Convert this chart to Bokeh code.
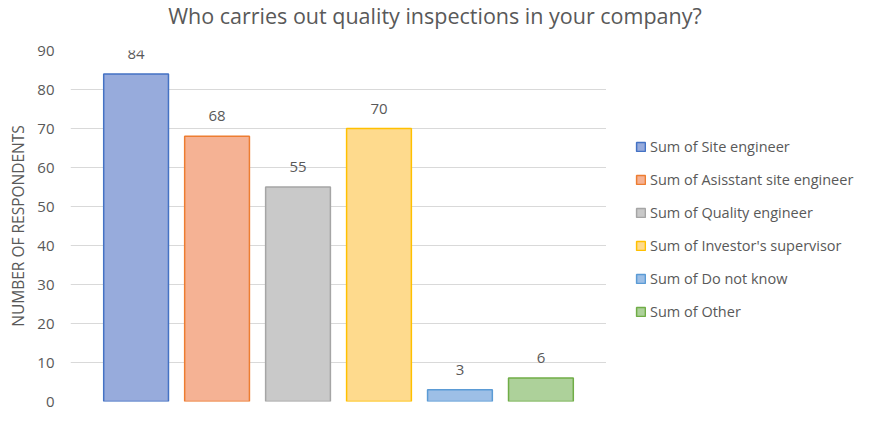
from bokeh.plotting import figure
from bokeh.models import ColumnDataSource, Range1d, Legend, LegendItem, LabelSet, Label, FixedTicker
from bokeh.layouts import row, column
from bokeh.core.properties import value
from bokeh.embed import file_html
from bokeh.resources import INLINE

title_text = "Who carries out quality inspections in your company?"
series = ["Sum of Site engineer", "Sum of Asisstant site engineer", "Sum of Quality engineer",
          "Sum of Investor's supervisor", "Sum of Do not know", "Sum of Other"]
values = [84, 68, 55, 70, 3, 6]
fills = ["#97ABDC", "#F5B294", "#C9C9C9", "#FEDA8D", "#9DBFE6", "#ADD19A"]
borders = ["#4472C4", "#ED7D31", "#A5A5A5", "#FFC000", "#5B9BD5", "#70AD47"]
y_ticks = [0, 10, 20, 30, 40, 50, 60, 70, 80, 90]

FONT = "Open Sans"
GRAY = "#595959"

# ---- title strip ----
tf = figure(width=858, height=32, output_backend="svg", toolbar_location=None,
            x_range=Range1d(0, 858), y_range=Range1d(0, 32),
            min_border_left=0, min_border_right=0, min_border_top=0, min_border_bottom=0)
tf.outline_line_color = None
tf.axis.visible = False
tf.grid.visible = False
tf.add_layout(Label(x=434.5, y=17, text=title_text, text_align="center", text_baseline="middle",
                    text_font=FONT, text_font_size="21.5px", text_color=GRAY))

# ---- main chart ----
src = ColumnDataSource(dict(x=list(range(len(values))), top=values, fill=fills, line=borders,
                            name=series, lbl=[str(v) for v in values]))

p = figure(frame_width=536, frame_height=351, output_backend="svg", toolbar_location=None,
           x_range=Range1d(-0.81, 5.81), y_range=Range1d(0, 90),
           min_border_left=70, min_border_bottom=8, min_border_top=18, min_border_right=0)
p.outline_line_color = None

r = p.vbar(x="x", top="top", width=0.8, bottom=0, source=src,
           fill_color="fill", line_color="line", line_width=1.5)

labels = LabelSet(x="x", y="top", text="lbl", source=src, text_align="center",
                  text_baseline="bottom", y_offset=15, text_font=value(FONT),
                  text_font_size=value("15px"), text_color=value(GRAY))
p.add_layout(labels)

p.xaxis.visible = False
p.xgrid.visible = False
p.ygrid.grid_line_color = "#D9D9D9"
p.ygrid.grid_line_width = 1
p.yaxis.ticker = FixedTicker(ticks=y_ticks)
p.yaxis.axis_line_color = None
p.yaxis.major_tick_line_color = None
p.yaxis.minor_tick_line_color = None
p.yaxis.major_label_text_font = FONT
p.yaxis.major_label_text_font_size = "15px"
p.yaxis.major_label_text_color = GRAY
p.yaxis.major_label_standoff = 10
p.yaxis.axis_label = "NUMBER OF RESPONDENTS"
p.yaxis.axis_label_text_font = FONT
p.yaxis.axis_label_text_font_size = "15.5px"
p.yaxis.axis_label_text_font_style = "normal"
p.yaxis.axis_label_text_color = GRAY
p.yaxis.axis_label_standoff = 5

# ---- legend panel ----
lg = figure(width=252, height=377, output_backend="svg", toolbar_location=None,
            x_range=Range1d(0, 1), y_range=Range1d(0, 1),
            min_border_left=0, min_border_right=0, min_border_top=0, min_border_bottom=0)
lg.outline_line_color = None
lg.axis.visible = False
lg.grid.visible = False
items = []
for s, f, b in zip(series, fills, borders):
    rr = lg.vbar(x=[float("nan")], top=[float("nan")], width=0.5,
                 fill_color=f, line_color=b, line_width=1.5)
    items.append(LegendItem(label=s, renderers=[rr]))
legend = Legend(items=items, location=(29, 80), border_line_color=None,
                label_text_font=FONT, label_text_font_size="14.5px", label_text_color=GRAY,
                glyph_width=11, glyph_height=11, label_height=20, spacing=13,
                label_standoff=4, padding=0, margin=0, background_fill_alpha=0)
lg.add_layout(legend, "center")

layout = column(tf, row(p, lg, spacing=0), spacing=0)
open("out.html", "w").write(file_html(layout, INLINE))
